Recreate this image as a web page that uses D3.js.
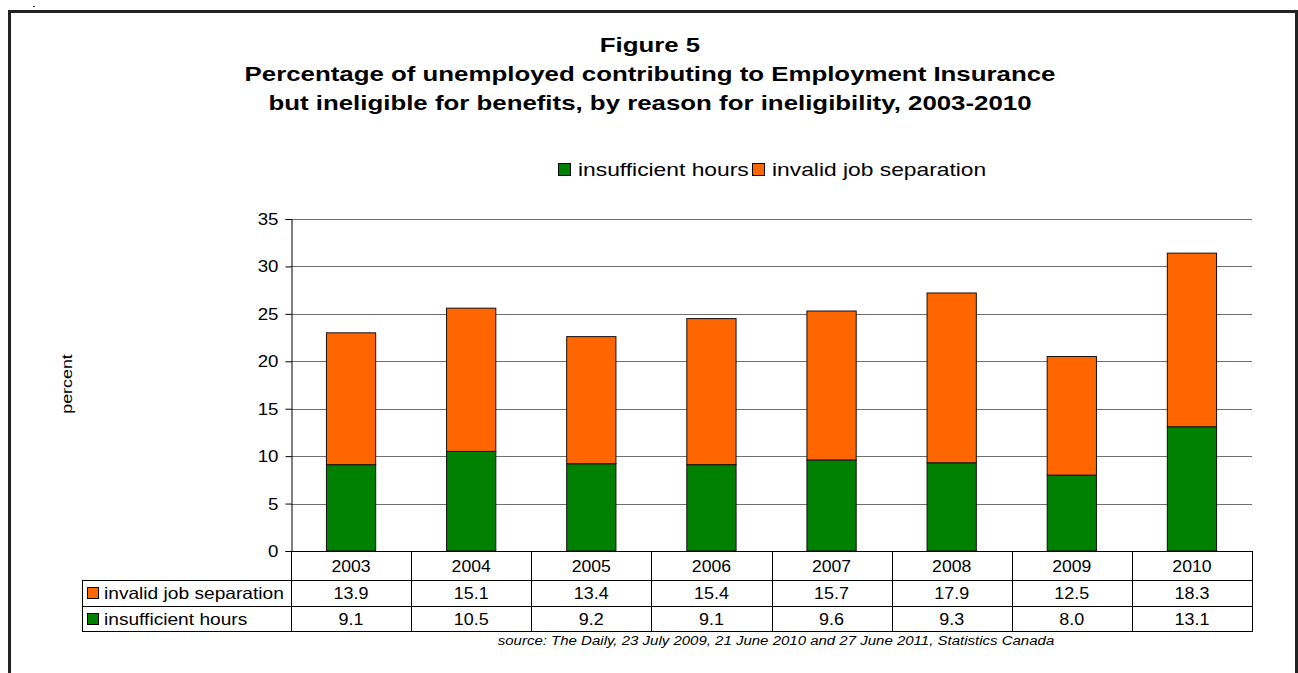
<!DOCTYPE html>
<html>
<head>
<meta charset="utf-8">
<script src="https://cdn.jsdelivr.net/npm/d3@7"></script>
<style>
  body { margin: 0; background: #fff; }
  svg { display: block; font-family: "Liberation Sans", Arial, sans-serif; }
</style>
</head>
<body>
<div id="app"></div>
<script>
// DATA
const years = ['2003', '2004', '2005', '2006', '2007', '2008', '2009', '2010'];
const insufficientHours = [9.1, 10.5, 9.2, 9.1, 9.6, 9.3, 8.0, 13.1];
const invalidSeparation = [13.9, 15.1, 13.4, 15.4, 15.7, 17.9, 12.5, 18.3];
const yTicks = [0, 5, 10, 15, 20, 25, 30, 35];

const series = [
  { key: 'insufficient', name: 'insufficient hours', values: insufficientHours, colour: '#008000' },
  { key: 'invalid', name: 'invalid job separation', values: invalidSeparation, colour: '#ff6600' },
];

// LAYOUT
const W = 1298, H = 673;
const plot = { left: 291, right: 1252, top: 219, bottom: 551 };
const rowH = [29, 26, 25]; // header, invalid, insufficient
const tableLeft = 82;

// the original picture has its text a bit wider than the font, stretch it
function stretch(sel, k) {
  sel.each(function() {
    const w = this.getComputedTextLength();
    d3.select(this)
      .attr('textLength', w * k)
      .attr('lengthAdjust', 'spacingAndGlyphs');
  });
}

const $svg = d3.select('#app')
  .append('svg')
  .attr('width', W)
  .attr('height', H);

// frame
$svg.append('path')
  .attr('d', `M9.5,${H} V11.5 H1296.5 V${H}`)
  .attr('fill', 'none')
  .attr('stroke', '#222')
  .attr('stroke-width', 3);
$svg.append('rect').attr('x', 33).attr('y', 6).attr('width', 2).attr('height', 1).attr('fill', '#333');

// title
const titleLines = [
  'Figure 5',
  'Percentage of unemployed contributing to Employment Insurance',
  'but ineligible for benefits, by reason for ineligibility, 2003-2010',
];
$svg.append('g').selectAll('text')
  .data(titleLines)
  .enter()
    .append('text')
    .attr('x', 650)
    .attr('y', (d, i) => 52 + i * 29)
    .attr('text-anchor', 'middle')
    .attr('font-size', 21)
    .attr('font-weight', 'bold')
    .text(d => d)
    .call(stretch, 1.23);

// scales
const x = d3.scaleBand()
  .domain(years)
  .range([plot.left, plot.right])
  .paddingInner(0)
  .paddingOuter(0);

const y = d3.scaleLinear()
  .domain([0, 35])
  .range([plot.bottom, plot.top]);

// gridlines
$svg.append('g')
  .selectAll('line')
  .data(yTicks.filter(t => t > 0))
  .enter()
    .append('line')
    .attr('x1', plot.left)
    .attr('x2', plot.right)
    .attr('y1', d => Math.round(y(d)) + 0.5)
    .attr('y2', d => Math.round(y(d)) + 0.5)
    .attr('stroke', '#6f6f6f')
    .attr('stroke-width', 1);

// stacked bars
const stack = d3.stack().keys(series.map(s => s.key));
const rows = years.map((yr, i) => ({ year: yr, insufficient: insufficientHours[i], invalid: invalidSeparation[i] }));
const layers = stack(rows);
const barW = x.bandwidth() * 0.41;

$svg.append('g')
  .selectAll('g')
  .data(layers)
  .enter()
    .append('g')
    .attr('fill', (d, i) => series[i].colour)
    .selectAll('rect')
    .data(d => d)
    .enter()
      .append('rect')
      .attr('x', d => x(d.data.year) + (x.bandwidth() - barW) / 2)
      .attr('y', d => y(d[1]))
      .attr('width', barW)
      .attr('height', d => y(d[0]) - y(d[1]))
      .attr('stroke', '#111')
      .attr('stroke-width', 1);

// y axis
const yAxis = d3.axisLeft(y)
  .tickValues(yTicks)
  .tickSize(6)
  .tickPadding(7)
  .tickFormat(d3.format('d'));

const $yAxis = $svg.append('g')
  .attr('transform', `translate(${plot.left + 0.5},0)`)
  .call(yAxis);
$yAxis.select('.domain').attr('stroke', '#000');
$yAxis.selectAll('.tick line').attr('stroke', '#000');
$yAxis.selectAll('.tick text')
  .attr('font-size', 17)
  .attr('font-family', '"Liberation Sans", Arial, sans-serif')
  .attr('fill', '#000')
  .call(stretch, 1.1);

// y label
$svg.append('text')
  .attr('transform', 'translate(72,384) rotate(-90)')
  .attr('text-anchor', 'middle')
  .attr('font-size', 15)
  .text('percent')
  .call(stretch, 1.19);

// legend
const legend = [
  { name: series[0].name, colour: series[0].colour, x: 558 },
  { name: series[1].name, colour: series[1].colour, x: 752 },
];
const $legend = $svg.append('g');
legend.forEach(l => {
  $legend.append('rect')
    .attr('x', l.x + 0.5).attr('y', 163.5)
    .attr('width', 12).attr('height', 12)
    .attr('fill', l.colour).attr('stroke', '#000');
  $legend.append('text')
    .attr('x', l.x + 20).attr('y', 176)
    .attr('font-size', 19)
    .text(l.name)
    .call(stretch, 1.2);
});

// data table
const tTop = plot.bottom;
const r1 = tTop + rowH[0];
const r2 = r1 + rowH[1];
const r3 = r2 + rowH[2];
const $table = $svg.append('g').attr('stroke', '#000').attr('stroke-width', 1);

// horizontal lines
[[plot.left, plot.right, tTop], [tableLeft, plot.right, r1], [tableLeft, plot.right, r2], [tableLeft, plot.right, r3]]
  .forEach(([a, b, yy]) => {
    $table.append('line').attr('x1', a).attr('x2', b).attr('y1', yy + 0.5).attr('y2', yy + 0.5);
  });
// vertical lines
$table.append('line').attr('x1', tableLeft + 0.5).attr('x2', tableLeft + 0.5).attr('y1', r1).attr('y2', r3 + 1);
$table.selectAll('line.col')
  .data(years.concat(['end']))
  .enter()
    .append('line')
    .attr('class', 'col')
    .attr('x1', d => Math.round(d === 'end' ? plot.right : x(d)) + 0.5)
    .attr('x2', d => Math.round(d === 'end' ? plot.right : x(d)) + 0.5)
    .attr('y1', tTop)
    .attr('y2', r3 + 1);

// header
$svg.append('g').selectAll('text')
  .data(years)
  .enter()
    .append('text')
    .attr('x', d => x(d) + x.bandwidth() / 2)
    .attr('y', tTop + 21)
    .attr('text-anchor', 'middle')
    .attr('font-size', 16)
    .text(d => d)
    .call(stretch, 1.1);

// table rows
const tableRows = [
  { s: series[1], top: r1, h: rowH[1] },
  { s: series[0], top: r2, h: rowH[2] },
];
tableRows.forEach(r => {
  $svg.append('rect')
    .attr('x', 87.5).attr('y', r.top + 7.5)
    .attr('width', 11).attr('height', 11)
    .attr('fill', r.s.colour).attr('stroke', '#000');
  $svg.append('text')
    .attr('x', 104).attr('y', r.top + r.h / 2 + 6)
    .attr('font-size', 16.5)
    .text(r.s.name)
    .call(stretch, 1.16);
  $svg.append('g').selectAll('text')
    .data(r.s.values)
    .enter()
      .append('text')
      .attr('x', (d, i) => x(years[i]) + x.bandwidth() / 2)
      .attr('y', r.top + r.h / 2 + 6)
      .attr('text-anchor', 'middle')
      .attr('font-size', 16)
      .text(d => d.toFixed(1))
      .call(stretch, 1.12);
});

// source
$svg.append('text')
  .attr('x', 776)
  .attr('y', 645)
  .attr('text-anchor', 'middle')
  .attr('font-size', 12)
  .attr('font-style', 'italic')
  .text('source: The Daily, 23 July 2009, 21 June 2010 and 27 June 2011, Statistics Canada')
  .call(stretch, 1.25);
</script>
</body>
</html>
